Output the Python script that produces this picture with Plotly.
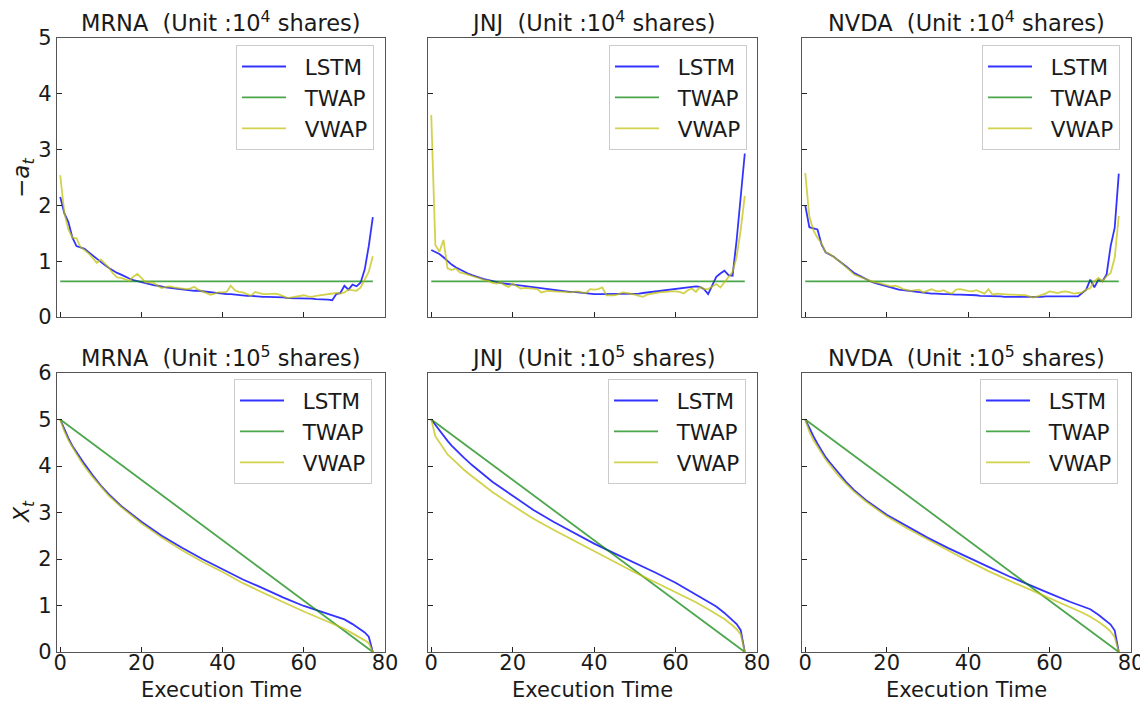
import plotly.graph_objects as go

# ---------------- data ----------------
exec_time = list(range(78))
tickers = ["MRNA", "JNJ", "NVDA"]

mrna_lstm_a = [2.15, 1.86, 1.70, 1.42, 1.27, 1.24, 1.22, 1.16, 1.10, 1.04,
               0.98, 0.93, 0.88, 0.83, 0.79, 0.76, 0.72, 0.69, 0.66, 0.64,
               0.62, 0.60, 0.58, 0.57, 0.56, 0.54, 0.53, 0.52, 0.51, 0.50,
               0.50, 0.49, 0.48, 0.47, 0.47, 0.46, 0.46, 0.45, 0.44, 0.43,
               0.42, 0.41, 0.41, 0.40, 0.40, 0.39, 0.38, 0.38, 0.37, 0.37,
               0.36, 0.36, 0.36, 0.35, 0.35, 0.35, 0.34, 0.34, 0.34, 0.33,
               0.33, 0.33, 0.33, 0.32, 0.32, 0.32, 0.31, 0.30, 0.41, 0.43,
               0.56, 0.49, 0.58, 0.55, 0.62, 0.85, 1.27, 1.79]
mrna_vwap_a = [2.54, 1.87, 1.57, 1.42, 1.41, 1.25, 1.20, 1.14, 1.06, 0.97,
               1.03, 0.95, 0.88, 0.78, 0.71, 0.70, 0.68, 0.65, 0.72, 0.77,
               0.70, 0.62, 0.62, 0.61, 0.56, 0.52, 0.54, 0.55, 0.53, 0.52,
               0.51, 0.50, 0.51, 0.54, 0.49, 0.46, 0.44, 0.40, 0.42, 0.44,
               0.44, 0.45, 0.56, 0.48, 0.45, 0.44, 0.41, 0.38, 0.45, 0.43,
               0.41, 0.41, 0.41, 0.42, 0.40, 0.37, 0.34, 0.35, 0.36, 0.37,
               0.39, 0.37, 0.36, 0.38, 0.39, 0.39, 0.40, 0.41, 0.43, 0.42,
               0.44, 0.49, 0.48, 0.47, 0.53, 0.66, 0.81, 1.09]
jnj_lstm_a = [1.20, 1.17, 1.13, 1.07, 1.00, 0.94, 0.89, 0.85, 0.81, 0.78,
              0.75, 0.72, 0.70, 0.68, 0.66, 0.64, 0.62, 0.61, 0.60, 0.59,
              0.58, 0.57, 0.56, 0.55, 0.54, 0.53, 0.52, 0.51, 0.50, 0.49,
              0.48, 0.47, 0.47, 0.46, 0.45, 0.45, 0.44, 0.43, 0.42, 0.42,
              0.41, 0.41, 0.41, 0.41, 0.41, 0.41, 0.41, 0.41, 0.41, 0.41,
              0.41, 0.42, 0.43, 0.44, 0.45, 0.46, 0.47, 0.48, 0.49, 0.50,
              0.51, 0.52, 0.53, 0.54, 0.54, 0.55, 0.54, 0.50, 0.41, 0.57,
              0.72, 0.78, 0.83, 0.75, 0.74, 1.38, 2.16, 2.93]
jnj_vwap_a = [3.62, 1.29, 1.17, 1.38, 0.87, 0.84, 0.87, 0.80, 0.78, 0.76,
              0.73, 0.71, 0.69, 0.66, 0.65, 0.61, 0.60, 0.62, 0.57, 0.54,
              0.60, 0.55, 0.51, 0.52, 0.52, 0.51, 0.50, 0.44, 0.46, 0.47,
              0.46, 0.46, 0.45, 0.45, 0.44, 0.45, 0.46, 0.44, 0.43, 0.50,
              0.49, 0.50, 0.53, 0.39, 0.39, 0.39, 0.41, 0.44, 0.43, 0.42,
              0.40, 0.38, 0.36, 0.40, 0.42, 0.43, 0.44, 0.45, 0.46, 0.46,
              0.46, 0.45, 0.42, 0.48, 0.51, 0.45, 0.54, 0.50, 0.50, 0.55,
              0.59, 0.53, 0.63, 0.72, 0.81, 1.08, 1.56, 2.17]
nvda_lstm_a = [2.00, 1.61, 1.59, 1.57, 1.30, 1.16, 1.12, 1.08, 1.02, 0.97,
               0.91, 0.85, 0.79, 0.75, 0.71, 0.68, 0.64, 0.61, 0.59, 0.56,
               0.54, 0.52, 0.50, 0.49, 0.48, 0.47, 0.46, 0.45, 0.44, 0.43,
               0.43, 0.42, 0.42, 0.41, 0.41, 0.41, 0.40, 0.40, 0.40, 0.40,
               0.39, 0.39, 0.39, 0.38, 0.38, 0.38, 0.37, 0.37, 0.37, 0.36,
               0.36, 0.36, 0.36, 0.35, 0.35, 0.35, 0.35, 0.36, 0.36, 0.37,
               0.37, 0.37, 0.37, 0.37, 0.37, 0.37, 0.37, 0.37, 0.43, 0.49,
               0.67, 0.53, 0.67, 0.64, 0.76, 1.27, 1.60, 2.57]
nvda_vwap_a = [2.58, 1.80, 1.55, 1.42, 1.32, 1.16, 1.13, 1.08, 1.02, 0.96,
               0.90, 0.83, 0.76, 0.73, 0.70, 0.67, 0.64, 0.62, 0.61, 0.59,
               0.56, 0.55, 0.56, 0.54, 0.50, 0.49, 0.47, 0.48, 0.49, 0.44,
               0.47, 0.50, 0.47, 0.46, 0.48, 0.44, 0.42, 0.49, 0.50, 0.48,
               0.47, 0.46, 0.48, 0.45, 0.42, 0.50, 0.40, 0.42, 0.41, 0.40,
               0.40, 0.40, 0.40, 0.39, 0.39, 0.37, 0.35, 0.37, 0.39, 0.42,
               0.46, 0.44, 0.43, 0.45, 0.46, 0.44, 0.42, 0.43, 0.44, 0.49,
               0.52, 0.64, 0.70, 0.64, 0.73, 0.79, 1.06, 1.81]

twap_time = [0, 77]
twap_a = [0.64, 0.64]
twap_X = [5.0, 0.0]

x_time = [0, 1, 2, 3, 4, 5, 6, 8, 10, 12, 15, 20, 25, 30, 35, 40, 45, 50,
          55, 60, 65, 68, 70, 72, 74, 75, 76, 77]
mrna_lstm_X = [5.00, 4.79, 4.60, 4.43, 4.29, 4.16, 4.04, 3.80, 3.58, 3.39,
               3.14, 2.80, 2.50, 2.24, 2.00, 1.78, 1.56, 1.37, 1.17, 0.99,
               0.84, 0.76, 0.70, 0.60, 0.49, 0.42, 0.33, 0.00]
mrna_vwap_X = [5.00, 4.75, 4.56, 4.40, 4.26, 4.12, 3.99, 3.76, 3.56, 3.36,
               3.12, 2.77, 2.46, 2.19, 1.94, 1.72, 1.48, 1.27, 1.07, 0.87,
               0.69, 0.58, 0.50, 0.40, 0.31, 0.25, 0.19, 0.00]
jnj_lstm_X = [5.00, 4.88, 4.76, 4.65, 4.54, 4.44, 4.35, 4.18, 4.02, 3.87,
              3.66, 3.36, 3.06, 2.80, 2.56, 2.33, 2.12, 1.92, 1.71, 1.49,
              1.24, 1.08, 0.98, 0.84, 0.68, 0.60, 0.47, 0.00]
jnj_vwap_X = [5.00, 4.64, 4.51, 4.39, 4.25, 4.17, 4.08, 3.92, 3.78, 3.64,
              3.44, 3.15, 2.87, 2.63, 2.40, 2.17, 1.93, 1.71, 1.50, 1.29,
              1.07, 0.92, 0.82, 0.71, 0.57, 0.49, 0.38, 0.00]
nvda_lstm_X = [5.00, 4.80, 4.64, 4.48, 4.32, 4.19, 4.08, 3.86, 3.66, 3.48,
               3.26, 2.95, 2.70, 2.46, 2.24, 2.03, 1.83, 1.63, 1.44, 1.26,
               1.08, 0.99, 0.92, 0.80, 0.67, 0.59, 0.46, 0.00]
nvda_vwap_X = [5.00, 4.74, 4.56, 4.41, 4.27, 4.14, 4.03, 3.81, 3.62, 3.45,
               3.23, 2.92, 2.66, 2.42, 2.19, 1.96, 1.74, 1.54, 1.35, 1.16,
               0.97, 0.85, 0.76, 0.65, 0.52, 0.44, 0.32, 0.00]

x_ticks = [0, 20, 40, 60, 80]
a_ticks = [0, 1, 2, 3, 4, 5]
X_ticks = [0, 1, 2, 3, 4, 5, 6]

lstm_a = [mrna_lstm_a, jnj_lstm_a, nvda_lstm_a]
vwap_a = [mrna_vwap_a, jnj_vwap_a, nvda_vwap_a]
lstm_X = [mrna_lstm_X, jnj_lstm_X, nvda_lstm_X]
vwap_X = [mrna_vwap_X, jnj_vwap_X, nvda_vwap_X]

# ---------------- style ----------------
OFF = 8                      # page offset of the plot div (body margin)
W, H = 1148 - OFF, 707 - OFF
FONT = "DejaVu Sans"
TXT = "#1a1a1a"
C_LSTM = "rgba(0,0,255,0.8)"
C_TWAP = "rgba(0,128,0,0.7)"
C_VWAP = "rgba(191,191,0,0.7)"
LW = 1.8
PAD = "\u00a0\u00a0"

# target positions in page pixels
col_px = [(57, 385), (428, 757), (802, 1131)]
row_px = [(38, 317), (373, 652)]
leg_right = [[374, 747, 1120], [372, 746, 1118]]
leg_top = [45, 379]


def px2x(p):
    return (p - OFF) / W


def px2y(p):
    return 1 - (p - OFF) / H


fig = go.Figure()
layout = dict(
    template="none",
    width=W, height=H,
    margin=dict(l=0, r=0, t=0, b=0, pad=0, autoexpand=False),
    paper_bgcolor="white", plot_bgcolor="white",
    font=dict(family=FONT, size=21, color=TXT),
    showlegend=True,
)
annotations = []

for r in range(2):
    for c in range(3):
        i = r * 3 + c
        n = i + 1
        xa = "x" if n == 1 else f"x{n}"
        ya = "y" if n == 1 else f"y{n}"
        leg = "legend" if n == 1 else f"legend{n}"
        if r == 0:
            series = [("LSTM", exec_time, lstm_a[c], C_LSTM),
                      ("TWAP", twap_time, twap_a, C_TWAP),
                      ("VWAP", exec_time, vwap_a[c], C_VWAP)]
        else:
            series = [("LSTM", x_time, lstm_X[c], C_LSTM),
                      ("TWAP", twap_time, twap_X, C_TWAP),
                      ("VWAP", x_time, vwap_X[c], C_VWAP)]
        for name, xs, ys, col in series:
            fig.add_trace(go.Scatter(
                x=xs, y=ys, mode="lines", name=PAD + name,
                line=dict(color=col, width=LW),
                xaxis=xa, yaxis=ya, legend=leg,
                legendgroup=f"{i}-{name}", showlegend=True,
            ))
        x0, x1 = col_px[c]
        y0, y1 = row_px[r]
        axis_common = dict(
            showline=True, linecolor="#555", linewidth=1.2, mirror=True,
            ticks="inside", ticklen=5, tickwidth=1.3, tickcolor="#222",
            showgrid=False, zeroline=False, automargin=False,
            tickfont=dict(family=FONT, size=21, color=TXT),
        )
        layout["xaxis" if n == 1 else f"xaxis{n}"] = dict(
            axis_common,
            domain=[px2x(x0), px2x(x1)], anchor=ya,
            range=[-0.8, 80], tickvals=x_ticks,
            showticklabels=(r == 1), ticklabelstandoff=-8,
        )
        layout["yaxis" if n == 1 else f"yaxis{n}"] = dict(
            axis_common,
            domain=[px2y(y1), px2y(y0)], anchor=xa,
            range=[0, 5] if r == 0 else [0, 6],
            tickvals=a_ticks if r == 0 else X_ticks,
            showticklabels=(c == 0),
        )
        layout[leg] = dict(
            x=px2x(leg_right[r][c]), y=px2y(leg_top[r]),
            xanchor="right", yanchor="top",
            bgcolor="rgba(255,255,255,0.85)", bordercolor="#cccccc",
            borderwidth=1, font=dict(family=FONT, size=21.5, color=TXT),
            tracegroupgap=0, itemwidth=44,
        )
        unit = "4" if r == 0 else "5"
        annotations.append(dict(
            text=f"{tickers[c]}\u00a0 (Unit :10<sup>{unit}</sup> shares)",
            xref="paper", yref="paper",
            x=px2x((x0 + x1) / 2), y=px2y(y0),
            xanchor="center", yanchor="bottom", yshift=0, showarrow=False,
            font=dict(family=FONT, size=22.5, color=TXT),
        ))
        if r == 1:
            annotations.append(dict(
                text="Execution Time", xref="paper", yref="paper",
                x=px2x((x0 + x1) / 2), y=px2y(690),
                xanchor="center", yanchor="middle", showarrow=False,
                font=dict(family=FONT, size=21, color=TXT),
            ))

annotations.append(dict(
    text="\u2212<i>a</i><sub><i>t</i></sub>", xref="paper", yref="paper",
    x=px2x(23), y=px2y(178), textangle=-90, showarrow=False,
    xanchor="center", yanchor="middle",
    font=dict(family=FONT, size=23, color=TXT),
))
annotations.append(dict(
    text="<i>X</i><sub><i>t</i></sub>", xref="paper", yref="paper",
    x=px2x(23), y=px2y(512), textangle=-90, showarrow=False,
    xanchor="center", yanchor="middle",
    font=dict(family=FONT, size=22, color=TXT),
))
layout["annotations"] = annotations
fig.update_layout(**layout)
fig.write_html("out.html")
